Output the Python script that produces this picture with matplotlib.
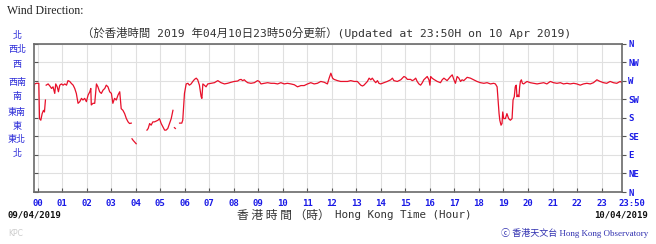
import numpy as np
import matplotlib
matplotlib.use("Agg")
import matplotlib.pyplot as plt
from matplotlib.transforms import ScaledTranslation

# hours after 00:00 (window starts 23:50 the day before), wind direction in degrees
# None marks missing readings
hours = [
    -0.167, -0.125, -0.044, 0.05, 0.078, 0.132, 0.186, 0.24, 0.28, 0.32, None,
    0.35, 0.43, 0.50, 0.57, 0.63, 0.70, 0.74, 0.80, 0.85, 0.905, 0.97, 1.04, 1.11, 1.18,
    1.24, 1.31, 1.38, 1.45, 1.515, 1.58, 1.65, 1.72, 1.79, 1.85, 1.92, 1.99, 2.06, 2.13,
    2.17, 2.19, 2.26, 2.33, 2.40, 2.46, 2.53, 2.60, 2.67, 2.74, 2.80, 2.87, 2.94, 3.01,
    3.07, 3.14, 3.21, 3.28, 3.35, 3.41, 3.48, 3.55, 3.62, 3.69, 3.75, 3.82, None,
    3.85, 3.90, 3.96, 4.02, None,
    4.46, 4.51, 4.57, 4.63, 4.70, 4.77, 4.84, 4.91, 4.97, 5.04, 5.11, 5.18, 5.24, 5.31,
    5.38, 5.45, 5.52, None, 5.58, 5.62, None,
    5.79, 5.88, 5.92, 5.99, 6.06, 6.13, 6.19, 6.26, 6.33, 6.40, 6.47, 6.53, 6.60, 6.67,
    6.70, 6.74, 6.80, 6.87, 6.94, 7.08, 7.21, 7.35, 7.48, 7.62, 7.75, 7.89, 8.02, 8.16,
    8.23, 8.30, 8.36, 8.43, 8.50, 8.57, 8.70, 8.84, 8.97, 9.04, 9.11, 9.25, 9.38, 9.52,
    9.65, 9.79, 9.92, 10.06, 10.19, 10.33, 10.47, 10.60, 10.74, 10.87, 11.01, 11.14,
    11.28, 11.41, 11.55, 11.69,
    11.82, 11.89, 11.96, 12.03, 12.09, 12.23, 12.36, 12.50, 12.64, 12.77, 12.91, 13.04,
    13.11, 13.18, 13.25, 13.31, 13.45, 13.52, 13.59, 13.65, 13.72, 13.79, 13.86, 13.92,
    13.99, 14.13, 14.26, 14.40, 14.47, 14.53, 14.67, 14.81, 14.94, 15.01, 15.08, 15.21,
    15.28, 15.35, 15.42, 15.48, 15.55, 15.62, 15.69, 15.75, 15.82, 15.89, 15.96, 16.00,
    16.03, 16.09, 16.16, 16.30, 16.43, 16.50, 16.57, 16.70, 16.84, 16.91, 16.98, 17.04,
    17.11, 17.18, 17.25, 17.31, 17.38, 17.52, 17.65, 17.79,
    17.92, 18.06, 18.20, 18.33, 18.47, 18.60, 18.67, 18.74, 18.78, 18.82, 18.85, 18.90,
    18.94, 18.97, 19.01, 19.08, 19.14, 19.21, 19.28, 19.35, 19.39, 19.44, 19.48, 19.52,
    19.55, 19.59, 19.63, 19.66, 19.69, 19.73, 19.77, 19.82, 19.89, 19.96, 20.09, 20.23,
    20.37, 20.50, 20.64, 20.77, 20.91, 21.04, 21.18, 21.32, 21.45, 21.59, 21.72, 21.86,
    21.99, 22.13, 22.26, 22.40, 22.54, 22.67, 22.81, 22.87, 22.94, 23.08, 23.21, 23.35,
    23.48, 23.62, 23.76, 23.83,
]
wind_dir = [
    219, 262, 263.5, 263.5, 178, 174, 190, 198, 194, 223, None,
    259, 262, 257, 251, 255, 239, 262, 255, 243, 259, 262, 259, 262, 259,
    270, 268, 263, 259, 251, 239, 215, 219, 227, 223, 227, 219, 235, 243,
    251, 211, 215, 215, 262, 255, 243, 239, 247, 251, 259, 255, 243, 239,
    215, 227, 223, 235, 243, 202, 198, 190, 178, 170, 166, 167, None,
    129, 125, 121, 117, None,
    150, 154, 166, 162, 170, 170, 172, 174, 178, 166, 158, 150, 150, 154,
    166, 178, 198, None, 156, 154, None,
    167, 167, 174, 239, 262, 263.5, 259, 262, 268, 273, 276, 272, 259, 231,
    227, 262, 259, 255, 262, 263.5, 265, 270, 265, 262, 263.5, 266, 268, 269,
    272, 273, 270, 272, 268, 265, 263.5, 265, 270, 268, 262, 263.5, 265, 263.5,
    263.5, 262, 265, 262, 263.5, 262, 260, 255, 258, 258, 262, 265,
    262, 263.5, 268, 266,
    262, 276, 288, 276, 273, 270, 268, 268, 268, 270, 268, 268,
    263.5, 259, 257, 259, 268, 276, 272, 276, 270, 265, 270, 263.5,
    262, 265, 268, 272, 276, 270, 268, 272, 280, 278, 273, 273,
    270, 272, 276, 268, 262, 259, 265, 272, 276, 280, 272, 259,
    280, 276, 273, 268, 265, 272, 276, 270, 280, 284, 272, 263.5,
    280, 276, 268, 272, 270, 278, 276, 272,
    268, 265, 263.5, 265, 262, 263.5, 262, 255, 223, 190, 174, 162,
    166, 194, 178, 178, 190, 178, 174, 178, 223, 231, 255, 259,
    231, 235, 231, 255, 268, 272, 263.5, 262, 265, 268, 265, 263.5,
    262, 263.5, 265, 262, 268, 265, 263.5, 265, 262, 263.5, 262, 263.5,
    262, 259, 262, 263.5, 262, 265, 272, 270, 268, 265, 263.5, 268,
    265, 263.5, 268, 265,
]

dir_ticks = [0, 45, 90, 135, 180, 225, 270, 315, 360]
dir_labels_en = ["N", "NE", "E", "SE", "S", "SW", "W", "NW", "N"]
dir_labels_zh = ["北", "西北", "西", "西南", "南", "東南", "東", "東北", "北"]  # top to bottom
hour_ticks = list(range(24)) + [23 + 50 / 60]
hour_labels = ["%02d" % h for h in range(24)] + ["23:50"]

W, H = 656, 244
BLUE = "#1a1ae6"
MONO = ["DejaVu Sans Mono", "Noto Sans CJK TC"]
CJK = ["Noto Sans CJK TC", "DejaVu Sans"]


def fx(x):
    return x / W


def fy(y):
    return 1 - y / H


fig = plt.figure(figsize=(W / 100, H / 100), dpi=100)
ax = fig.add_axes([fx(33.5), fy(192), (622 - 33.5) / W, (192 - 43.5) / H])

x = np.array(hours, dtype=float)
y = np.array(wind_dir, dtype=float)
ax.plot(x, y, color="#e8102a", lw=0.9)

ax.set_xlim(-10 / 60, 23 + 50 / 60)
ax.set_ylim(0, 360)
ax.set_yticks(dir_ticks)
ax.set_xticks(hour_ticks)
ax.grid(True, color="#e0e0e0", lw=0.8)
ax.set_axisbelow(True)
for s in ax.spines.values():
    s.set_color("#6a6a6a")
    s.set_linewidth(1.2)

ax.tick_params(axis="y", direction="in", length=3, color="#555555",
               labelleft=False)
ax.tick_params(axis="x", direction="in", length=3, color="#555555", pad=5)
ax.set_xticklabels(hour_labels, family="DejaVu Sans Mono", weight="bold",
                   color=BLUE, fontsize=6.5)
last = ax.get_xticklabels()[-1]
last.set_ha("left")
last.set_transform(last.get_transform() + ScaledTranslation(-3 / 100, 0, fig.dpi_scale_trans))
ax.get_xticklines()[-2].set_visible(False)

# right side english labels, ticks pointing out
ax2 = ax.twinx()
ax2.set_ylim(0, 360)
ax2.set_yticks(dir_ticks)
ax2.set_yticklabels(dir_labels_en, family="DejaVu Sans Mono", weight="bold",
                    color=BLUE, fontsize=6.5)
ax2.tick_params(axis="y", direction="out", length=3, color="#555555", pad=1.5)
for s in ax2.spines.values():
    s.set_visible(False)

# left chinese labels sit a bit higher than the ticks, like the original
zh_y = [35, 49, 65, 82, 97, 112, 126, 139, 153]
for lab, yy in zip(dir_labels_zh, zh_y):
    fig.text(fx(17), fy(yy), lab, family=CJK, color="#2a2ad8", fontsize=6.5,
             ha="center", va="center")

fig.text(fx(7), fy(11), "Wind Direction:", family="Liberation Serif",
         fontsize=8.5, color="#222222", va="center")
fig.text(fx(327), fy(33),
         "（於香港時間 2019 年04月10日23時50分更新）(Updated at 23:50H on 10 Apr 2019)",
         family=MONO, fontsize=8.2, color="#333333", ha="center", va="center")

fig.text(fx(7), fy(215), "09/04/2019", family="DejaVu Sans Mono", weight="bold",
         fontsize=6.5, color="#111111", va="center")
fig.text(fx(648), fy(215), "10/04/2019", family="DejaVu Sans Mono", weight="bold",
         fontsize=6.5, color="#111111", va="center", ha="right")
fig.text(fx(330), fy(215), "香 港 時 間 （時）", family=CJK, fontsize=8.5,
         color="#333333", ha="right", va="center")
fig.text(fx(335), fy(215), "Hong Kong Time (Hour)", family="DejaVu Sans Mono",
         fontsize=7.8, color="#333333", ha="left", va="center")

fig.text(fx(8), fy(233), "KPC", family="DejaVu Sans", fontsize=5.5,
         color="#cccccc", va="center")
fig.text(fx(648), fy(233), "ⓒ 香港天文台 Hong Kong Observatory",
         family=["Liberation Serif", "Noto Sans CJK TC"], fontsize=6.5,
         color="#3030b0", ha="right", va="center")

fig.savefig("out.png", dpi=100, facecolor="white")
